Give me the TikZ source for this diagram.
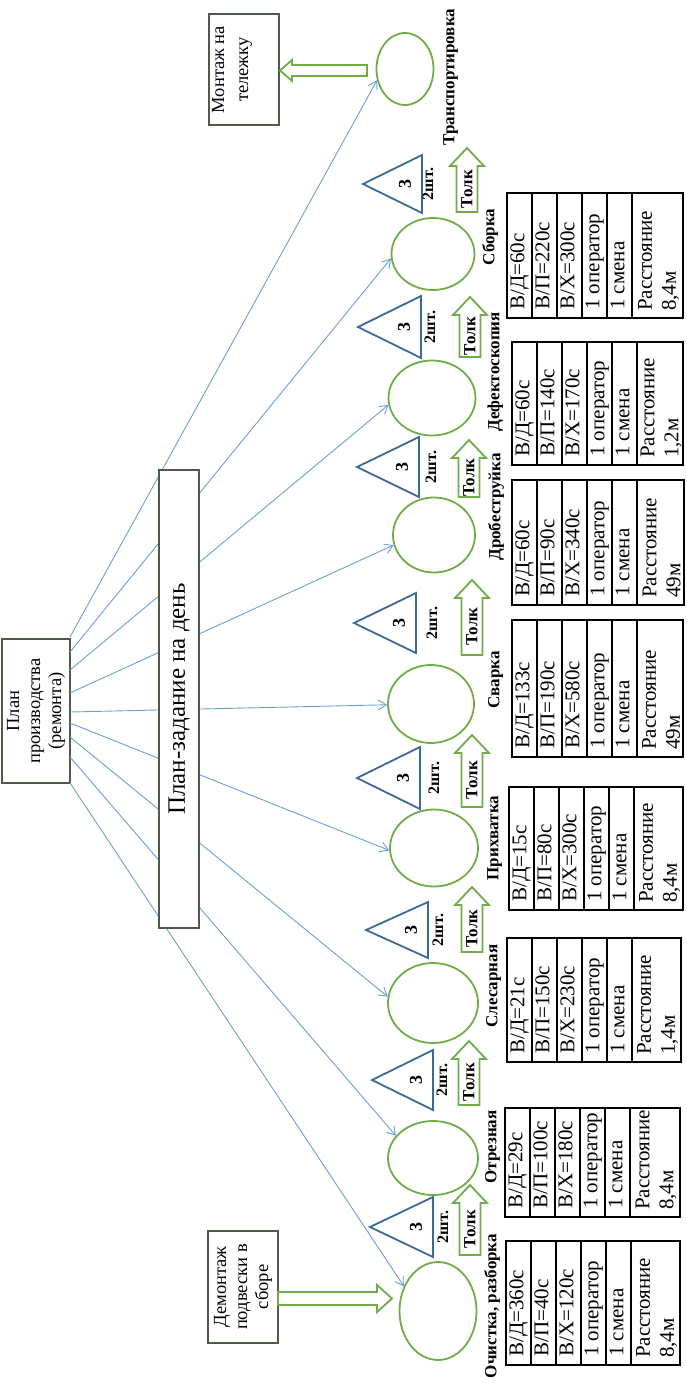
\documentclass[tikz,border=0pt]{standalone}
\usepackage{fontspec}
\setmainfont{Liberation Serif}
\usetikzlibrary{shapes.geometric,arrows.meta,calc}

\definecolor{stgreen}{HTML}{70AD47}
\definecolor{triblue}{HTML}{3B6A98}
\definecolor{lnblue}{HTML}{6A9FD8}
\definecolor{boxline}{HTML}{505A48}

\tikzset{
 station/.style={ellipse, draw=stgreen, line width=1.8pt, inner sep=0pt},
 conn/.style={lnblue, line width=0.9pt, -{Straight Barb[length=8pt,width=10pt]}},
 boxnode/.style={draw=boxline, line width=1.2pt, fill=white, rotate=90, inner sep=2pt, align=center, font=\fontsize{18.5}{21}\selectfont},
 tribox/.style={draw=triblue, line width=1.8pt, line join=miter},
 trinum/.style={rotate=90, font=\bfseries\fontsize{18}{20}\selectfont, inner sep=0pt},
 qty/.style={rotate=90, font=\bfseries\fontsize{16}{18}\selectfont, inner sep=0pt},
 blockarrow/.style={draw=stgreen, line width=1.8pt, fill=white, line join=miter},
 tolktext/.style={rotate=90, font=\bfseries\fontsize{17}{19}\selectfont, inner sep=0pt},
 steplabel/.style={rotate=90, font=\bfseries\fontsize{17}{20}\selectfont, anchor=mid, inner sep=0pt},
 tabline/.style={draw=black, line width=1.2pt},
 celltext/.style={rotate=90, font=\fontsize{21}{24}\selectfont, inner sep=0pt},
}

% #1 prefix #2 x0 #3 ytop #4 ybot #5 xend #6 vd #7 vp #8 vx #9 dist
\newcommand{\ptab}[9]{%
 \draw[tabline] (#2,#3) rectangle (#5,#4);
 \foreach \k in {1,...,5}{\draw[tabline] ({#2+25*\k},#3) -- ({#2+25*\k},#4);}
 \node[celltext, anchor=mid west] (#1a) at ({#2+15},{#4-8}) {В/Д=#6};
 \node[celltext, anchor=mid west] (#1b) at ({#2+40},{#4-8}) {В/П=#7};
 \node[celltext, anchor=mid west] (#1c) at ({#2+65},{#4-8}) {В/Х=#8};
 \node[celltext, anchor=mid west] (#1d) at ({#2+90},{#4-8}) {1 оператор};
 \node[celltext, anchor=mid west] (#1e) at ({#2+115},{#4-8}) {1 смена};
 \node[celltext, anchor=west, align=left] (#1f) at ({(#2+125+#5)/2+1},{#4-7}) {Расстояние\\#9};
}

% #1 name #2 xtip #3 yc #4 xbase #5 half height #6 x of qty label
\newcommand{\mytri}[6]{%
 \draw[tribox] (#2,#3) -- (#4,{#3-#5}) -- (#4,{#3+#5}) -- cycle;
 \node[trinum] (#1n) at ({#4-17},#3) {3};
 \node[qty] (#1q) at (#6,#3) {2шт.};
}

% #1 name #2 xc #3 ybot #4 ytip
\newcommand{\tolk}[4]{%
 \draw[blockarrow] ({#2-10.5},#3) -- ({#2-10.5},{#4+18}) -- ({#2-17},{#4+18}) -- (#2,#4)
   -- ({#2+17},{#4+18}) -- ({#2+10.5},{#4+18}) -- ({#2+10.5},#3) -- cycle;
 \node[tolktext] (#1) at (#2,{(#3+#4+18)/2}) {Толк};
}

\begin{document}
\begin{tikzpicture}[x=1pt,y=-1pt]
\useasboundingbox (0,0) rectangle (686,1383);

% stations
\node[station, minimum width=77, minimum height=98] (s1) at (438,1311) {};
\node[station, minimum width=90, minimum height=74] (s2) at (433,1158) {};
\node[station, minimum width=90, minimum height=80] (s3) at (433,1003) {};
\node[station, minimum width=88, minimum height=77] (s4) at (434,848) {};
\node[station, minimum width=86, minimum height=78] (s5) at (431,704) {};
\node[station, minimum width=82, minimum height=75] (s6) at (434,535) {};
\node[station, minimum width=87, minimum height=75] (s7) at (432,398) {};
\node[station, minimum width=83, minimum height=72] (s8) at (433,254) {};
\node[station, minimum width=57, minimum height=72] (s9) at (405,69) {};

% plan box and start points
\node[boxnode, minimum width=144, minimum height=68] (plan) at (36,711) {План\\производства\\(ремонта)};
\coordinate (p9) at (70,637);
\coordinate (p8) at (70,652);
\coordinate (p7) at (70,670);
\coordinate (p6) at (70,693);
\coordinate (p5) at (70,712);
\coordinate (p4) at (70,723);
\coordinate (p3) at (70,737);
\coordinate (p2) at (70,757);
\coordinate (p1) at (70,783);

\draw[conn] (p9) -- (s9.202);
\draw[conn] (p8) -- (s8.186);
\draw[conn] (p7) -- (s7.189);
\draw[conn] (p6) -- (s6.194);
\draw[conn] (p5) -- (s5.181);
\draw[conn] (p4) -- (s4.183);
\draw[conn] (p3) -- (s3.172);
\draw[conn] (p2) -- (s2.149);
\draw[conn] (p1) -- (s1.144);

% daily plan box
\node[boxnode, minimum width=458, minimum height=40, font=\fontsize{25}{28}\selectfont] (zad) at (179,699) {План-задание на день};

% dismount / mount boxes
\node[boxnode, minimum width=112, minimum height=70] (dem) at (243,1287) {Демонтаж\\подвески в\\сборе};
\node[boxnode, minimum width=111, minimum height=70] (mont) at (244,69.5) {};
\node[rotate=90, inner sep=0pt, align=center, font=\fontsize{18.5}{24}\selectfont] (montxt) at (232,69.5) {Монтаж на\\тележку};

\draw[blockarrow] (278,1292) -- (377,1292) -- (377,1285) -- (392,1298.5) -- (377,1312) -- (377,1305) -- (278,1305) -- cycle;
\draw[blockarrow] (367,65) -- (292,65) -- (292,60) -- (280,70.5) -- (292,81) -- (292,76) -- (367,76) -- cycle;

% triangles
\mytri{t1}{370}{1227}{433}{30}{443}
\mytri{t2}{372}{1080}{433}{30}{442}
\mytri{t3}{366}{930}{428}{28}{438}
\mytri{t4}{357}{778}{420}{31}{434}
\mytri{t5}{354}{623}{416}{30}{432}
\mytri{t6}{357}{467}{419}{30}{431}
\mytri{t7}{358}{327}{421}{31}{430}
\mytri{t8}{363}{184}{422}{29}{428}

% push arrows
\tolk{a1}{470}{1255}{1185}
\tolk{a2}{469}{1105}{1041}
\tolk{a3}{472}{952}{887}
\tolk{a4}{472}{807}{735}
\tolk{a5}{472}{655}{580}
\tolk{a6}{469}{497}{440}
\tolk{a7}{470}{357}{297}
\tolk{a8}{467}{212}{148}

% labels
\node[steplabel] (l1) at (494,1306) {Очистка, разборка};
\node[steplabel] (l2) at (494,1147) {Отрезная};
\node[steplabel] (l3) at (495,986) {Слесарная};
\node[steplabel] (l4) at (496,838) {Прихватка};
\node[steplabel] (l5) at (497,680) {Сварка};
\node[steplabel] (l6) at (498,507) {Дробеструйка};
\node[steplabel] (l7) at (497,372) {Дефектоскопия};
\node[steplabel] (l8) at (492,237) {Сборка};
\node[steplabel] (l9) at (452,77) {Транспортировка};

% tables
\ptab{ta}{506}{1241}{1365}{680}{360с}{40с}{120с}{8,4м}
\ptab{tb}{505}{1108}{1217}{680}{29с}{100с}{180с}{8,4м}
\ptab{tc}{507}{938}{1062}{681}{21с}{150с}{230с}{1,4м}
\ptab{td}{509}{787}{910}{683}{15с}{80с}{300с}{8,4м}
\ptab{te}{512}{620}{757}{683}{133с}{190с}{580с}{49м}
\ptab{tf}{512}{480}{605}{684}{60с}{90с}{340с}{49м}
\ptab{tg}{512}{342}{465}{683}{60с}{140с}{170с}{1,2м}
\ptab{th}{507}{193}{318}{683}{60с}{220с}{300с}{8,4м}

\end{tikzpicture}
\end{document}
